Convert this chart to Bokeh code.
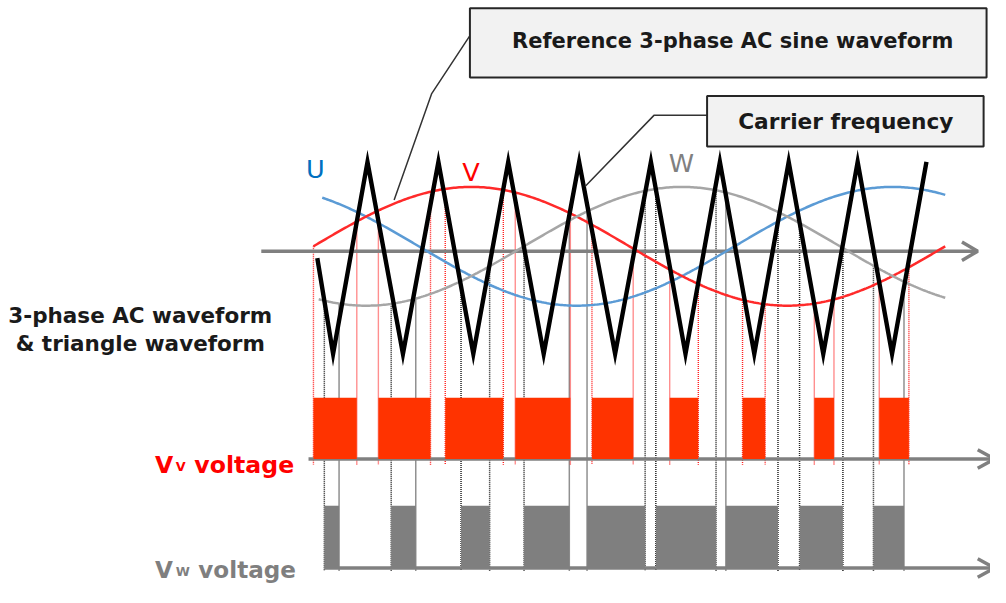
import numpy as np
from bokeh.plotting import figure
from bokeh.models import Range1d, Label
from bokeh.embed import file_html
from bokeh.resources import INLINE

# ---------------- data ----------------
# reference 3-phase sine waves (x: electrical angle in degrees, y: amplitude)
phase_names = ["U", "V", "W"]
phase_shift_deg = [120, 0, -120]
phase_start_deg = [5, 0, 3]
phase_end_deg = [360, 360, 360]
phase_colors = ["#5B9BD5", "#FF2A2A", "#A6A6A6"]
phase_label_colors = ["#0070C0", "#FF0000", "#808080"]

# triangle carrier vertices (degrees) and levels (amplitude units)
carrier_start_deg = 2.2
carrier_troughs_deg = [11.2, 51.0, 91.1, 131.2, 171.9, 212.0, 251.2, 290.5, 329.7]
carrier_peaks_deg = [30.8, 71.2, 111.0, 151.4, 192.3, 231.6, 270.8, 310.1, 349.3]
carrier_high = 1.42
carrier_low = -1.81
carrier_mid = -0.20

# PWM pulse edges (degrees)
vv_on = [0.0, 37.0, 75.1, 115.0, 158.7, 203.0, 244.5, 285.4, 322.4]
vv_off = [24.7, 66.7, 108.2, 146.4, 182.2, 219.3, 257.4, 296.6, 339.3]
vw_on = [6.2, 44.3, 84.1, 120.0, 155.9, 195.1, 235.0, 277.0, 319.1]
vw_off = [14.6, 58.3, 100.4, 145.8, 189.0, 229.4, 264.7, 301.7, 336.5]

# ---------------- layout helpers ----------------
W, H = 990, 587            # canvas; the 1006x603 reference frame is fitted into it
REF_W, REF_H = 1006, 603
S = W / REF_W              # text / line scale
PX_PER_DEG = 642.0 / 360.0
X_ZERO = 318.0             # reference x of 0 degrees
Y_ZERO = 252.5             # reference y of amplitude 0
PX_PER_UNIT = 61.0


def px(X):
    return (X - X_ZERO) / PX_PER_DEG


def py(Y):
    return (Y_ZERO - Y) / PX_PER_UNIT


main_axis_level = py(257.5)
vv_base, vv_high = py(471), py(408)
vw_base, vw_high = py(583), py(519)

p = figure(width=W, height=H, output_backend="svg", toolbar_location=None,
           x_range=Range1d(px(0), px(REF_W)), y_range=Range1d(py(REF_H), py(0)),
           min_border=0, x_axis_location=None, y_axis_location=None)
p.grid.visible = False
p.outline_line_color = None
p.background_fill_color = "white"
p.border_fill_color = "white"

# ---------------- dotted projection lines ----------------
vv_edges = np.array(vv_on + vv_off)
vw_edges = np.array(vw_on + vw_off)
p.segment(x0=vw_edges, x1=vw_edges,
          y0=np.sin(np.radians(vw_edges + phase_shift_deg[2])), y1=py(586),
          line_color="#222222", line_width=1.5, line_dash="1 1")
p.segment(x0=vv_edges, x1=vv_edges,
          y0=np.sin(np.radians(vv_edges + phase_shift_deg[1])), y1=py(477),
          line_color="#FF2020", line_width=1.4, line_dash="1 1")

# ---------------- axes with arrows ----------------
AG = "#808080"
arm_dy = 9.5 / PX_PER_UNIT
LW_AX = 3.5 * S
p.line([px(265), px(993)], [main_axis_level] * 2, line_color=AG, line_width=LW_AX)
p.line([px(977), px(993), px(977)],
       [main_axis_level + arm_dy, main_axis_level, main_axis_level - arm_dy],
       line_color=AG, line_width=LW_AX)
for lvl, x_start in ((vv_base, 313), (vw_base, 329)):
    p.line([px(x_start), px(1010)], [lvl, lvl], line_color=AG, line_width=LW_AX)
    p.line([px(993), px(1010), px(993)], [lvl + arm_dy, lvl, lvl - arm_dy],
           line_color=AG, line_width=LW_AX)

# ---------------- sine waves ----------------
for name, sh, a, b, c in zip(phase_names, phase_shift_deg, phase_start_deg,
                             phase_end_deg, phase_colors):
    th = np.linspace(a, b, 361)
    p.line(th, np.sin(np.radians(th + sh)), line_color=c, line_width=2.5)

# ---------------- triangle carrier ----------------
cx = [carrier_start_deg]
cy = [carrier_mid]
for t, pk in zip(carrier_troughs_deg, carrier_peaks_deg):
    cx += [t, pk]
    cy += [carrier_low, carrier_high]
p.line(cx, cy, line_color="black", line_width=4.4, line_join="miter")

# ---------------- PWM pulses ----------------
p.quad(left=vv_on, right=vv_off, bottom=vv_base, top=vv_high,
       fill_color="#FF3300", line_color=None)
p.quad(left=vw_on, right=vw_off, bottom=vw_base, top=vw_high,
       fill_color="#7F7F7F", line_color=None)

# ---------------- callouts ----------------
TXT = "#1A1A1A"
p.line([px(477), px(438), px(400)], [py(36), py(96), py(205)],
       line_color="#333333", line_width=1.5)
p.line([px(718), px(664), px(594)], [py(118), py(118), py(191)],
       line_color="#333333", line_width=1.5)
p.quad(left=px(477), right=px(1002), top=py(8), bottom=py(79),
       fill_color="#F2F2F2", line_color="#262626", line_width=2)
p.quad(left=px(718), right=px(999), top=py(98), bottom=py(150),
       fill_color="#F2F2F2", line_color="#262626", line_width=2)

FONT = "DejaVu Sans"


def label(x, y, text, size, color, bold=True, align="center", baseline="middle"):
    p.add_layout(Label(x=px(x), y=py(y), text=text, text_font=FONT,
                       text_font_size=f"{size * S:.1f}px",
                       text_font_style="bold" if bold else "normal",
                       text_color=color, text_align=align, text_baseline=baseline))


label(744, 42, "Reference 3-phase AC sine waveform", 21.3, TXT)
label(859, 124, "Carrier frequency", 22, TXT)

# phase labels
for name, lx, ly, col in zip(phase_names, [320, 478, 692], [173, 176, 167],
                             phase_label_colors):
    label(lx, ly, name, 26, col, bold=False)

# left labels
label(142, 324, "3-phase AC waveform", 21.8, TXT, baseline="alphabetic")
label(142, 352, "& triangle waveform", 21.8, TXT, baseline="alphabetic")

# Vv / Vw labels
label(157, 477, "V", 24, "#FF0000", align="left", baseline="alphabetic")
label(178, 479, "V", 13, "#FF0000", align="left", baseline="alphabetic")
label(197, 477, "voltage", 24, "#FF0000", align="left", baseline="alphabetic")
label(157, 585, "V", 23.5, "#7F7F7F", align="left", baseline="alphabetic")
label(178, 587, "W", 13, "#7F7F7F", align="left", baseline="alphabetic")
label(201, 585, "voltage", 23.5, "#7F7F7F", align="left", baseline="alphabetic")

open("out.html", "w").write(file_html(p, INLINE))
